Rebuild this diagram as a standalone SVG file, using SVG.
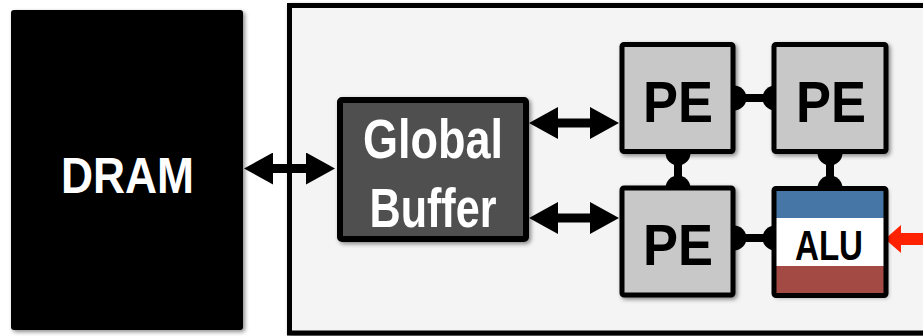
<svg xmlns="http://www.w3.org/2000/svg" width="923" height="336" viewBox="0 0 923 336">
<defs>
<style>
.lbl{font-family:"Liberation Sans",Arial,sans-serif;font-weight:bold;text-anchor:middle;}
.pe{fill:#c8c8c8;stroke:#000;stroke-width:5;}
.conn{stroke:#000;stroke-width:8;fill:none;marker-start:url(#dot);marker-end:url(#dot);}
.arr{stroke:#000;stroke-width:9;fill:none;marker-start:url(#head);marker-end:url(#head);}
</style>
<filter id="sh" x="-10%" y="-10%" width="130%" height="130%">
<feDropShadow dx="2" dy="2" stdDeviation="2" flood-color="#000" flood-opacity="0.45"/>
</filter>
<marker id="dot" markerUnits="userSpaceOnUse" markerWidth="26" markerHeight="26" refX="13" refY="13" orient="auto">
<circle cx="13" cy="13" r="12.5" fill="#000"/>
</marker>
<marker id="head" markerUnits="userSpaceOnUse" markerWidth="30" markerHeight="32" refX="1" refY="16" orient="auto-start-reverse">
<path d="M0,0 L29,16 L0,32 z" fill="#000"/>
</marker>
<marker id="redhead" markerUnits="userSpaceOnUse" markerWidth="17" markerHeight="28" refX="1" refY="14" orient="auto">
<path d="M0,0 L16,14 L0,28 z" fill="#ff2200"/>
</marker>
</defs>
<rect x="0" y="0" width="923" height="336" fill="#fff"/>
<g id="chip">
<rect x="289.5" y="5.5" width="660" height="327.5" fill="#f4f4f4" stroke="#000" stroke-width="5" filter="url(#sh)"/>
</g>
<g id="dram">
<rect x="11" y="10" width="232" height="320" rx="3" fill="#000" filter="url(#sh)"/>
<text class="lbl" x="127.5" y="193" font-size="50" textLength="133" lengthAdjust="spacingAndGlyphs" fill="#fff">DRAM</text>
</g>
<g id="connectors">
<line class="arr" x1="272" y1="168.5" x2="307" y2="168.5"/>
<line class="arr" x1="557" y1="123" x2="591" y2="123"/>
<line class="arr" x1="557" y1="218" x2="591" y2="218"/>
<line class="conn" x1="734" y1="98" x2="775" y2="98"/>
<line class="conn" x1="734" y1="238" x2="775" y2="238"/>
<line class="conn" x1="678" y1="153" x2="678" y2="188"/>
<line class="conn" x1="830" y1="153" x2="830" y2="188"/>
<line x1="930" y1="239" x2="900" y2="239" stroke="#ff2200" stroke-width="12" marker-end="url(#redhead)"/>
</g>
<g id="global-buffer">
<rect x="340" y="100" width="186" height="139" rx="2" fill="#505050" stroke="#000" stroke-width="6" filter="url(#sh)"/>
<text class="lbl" x="433" y="158" font-size="56" textLength="140" lengthAdjust="spacingAndGlyphs" fill="#fff">Global</text>
<text class="lbl" x="433" y="227" font-size="56" textLength="127" lengthAdjust="spacingAndGlyphs" fill="#fff">Buffer</text>
</g>
<g id="pe-tl">
<rect class="pe" x="622" y="44.5" width="111" height="107" rx="2" filter="url(#sh)"/>
<text class="lbl" x="678" y="122" font-size="58" textLength="70" lengthAdjust="spacingAndGlyphs" fill="#000">PE</text>
</g>
<g id="pe-tr">
<rect class="pe" x="774" y="44.5" width="112" height="107" rx="2" filter="url(#sh)"/>
<text class="lbl" x="831" y="122" font-size="58" textLength="70" lengthAdjust="spacingAndGlyphs" fill="#000">PE</text>
</g>
<g id="pe-bl">
<rect class="pe" x="622" y="188" width="111" height="107" rx="2" filter="url(#sh)"/>
<text class="lbl" x="678" y="265" font-size="58" textLength="70" lengthAdjust="spacingAndGlyphs" fill="#000">PE</text>
</g>
<g id="alu">
<rect x="774" y="188.5" width="112" height="107" fill="#fff" filter="url(#sh)"/>
<rect x="776" y="190" width="108" height="28" fill="#4676a5"/>
<rect x="776" y="266" width="108" height="28" fill="#a34a44"/>
<rect x="774" y="188.5" width="112" height="107" rx="2" fill="none" stroke="#000" stroke-width="5"/>
<text class="lbl" x="829" y="260" font-size="43" textLength="68" lengthAdjust="spacingAndGlyphs" fill="#000">ALU</text>
</g>
</svg>
